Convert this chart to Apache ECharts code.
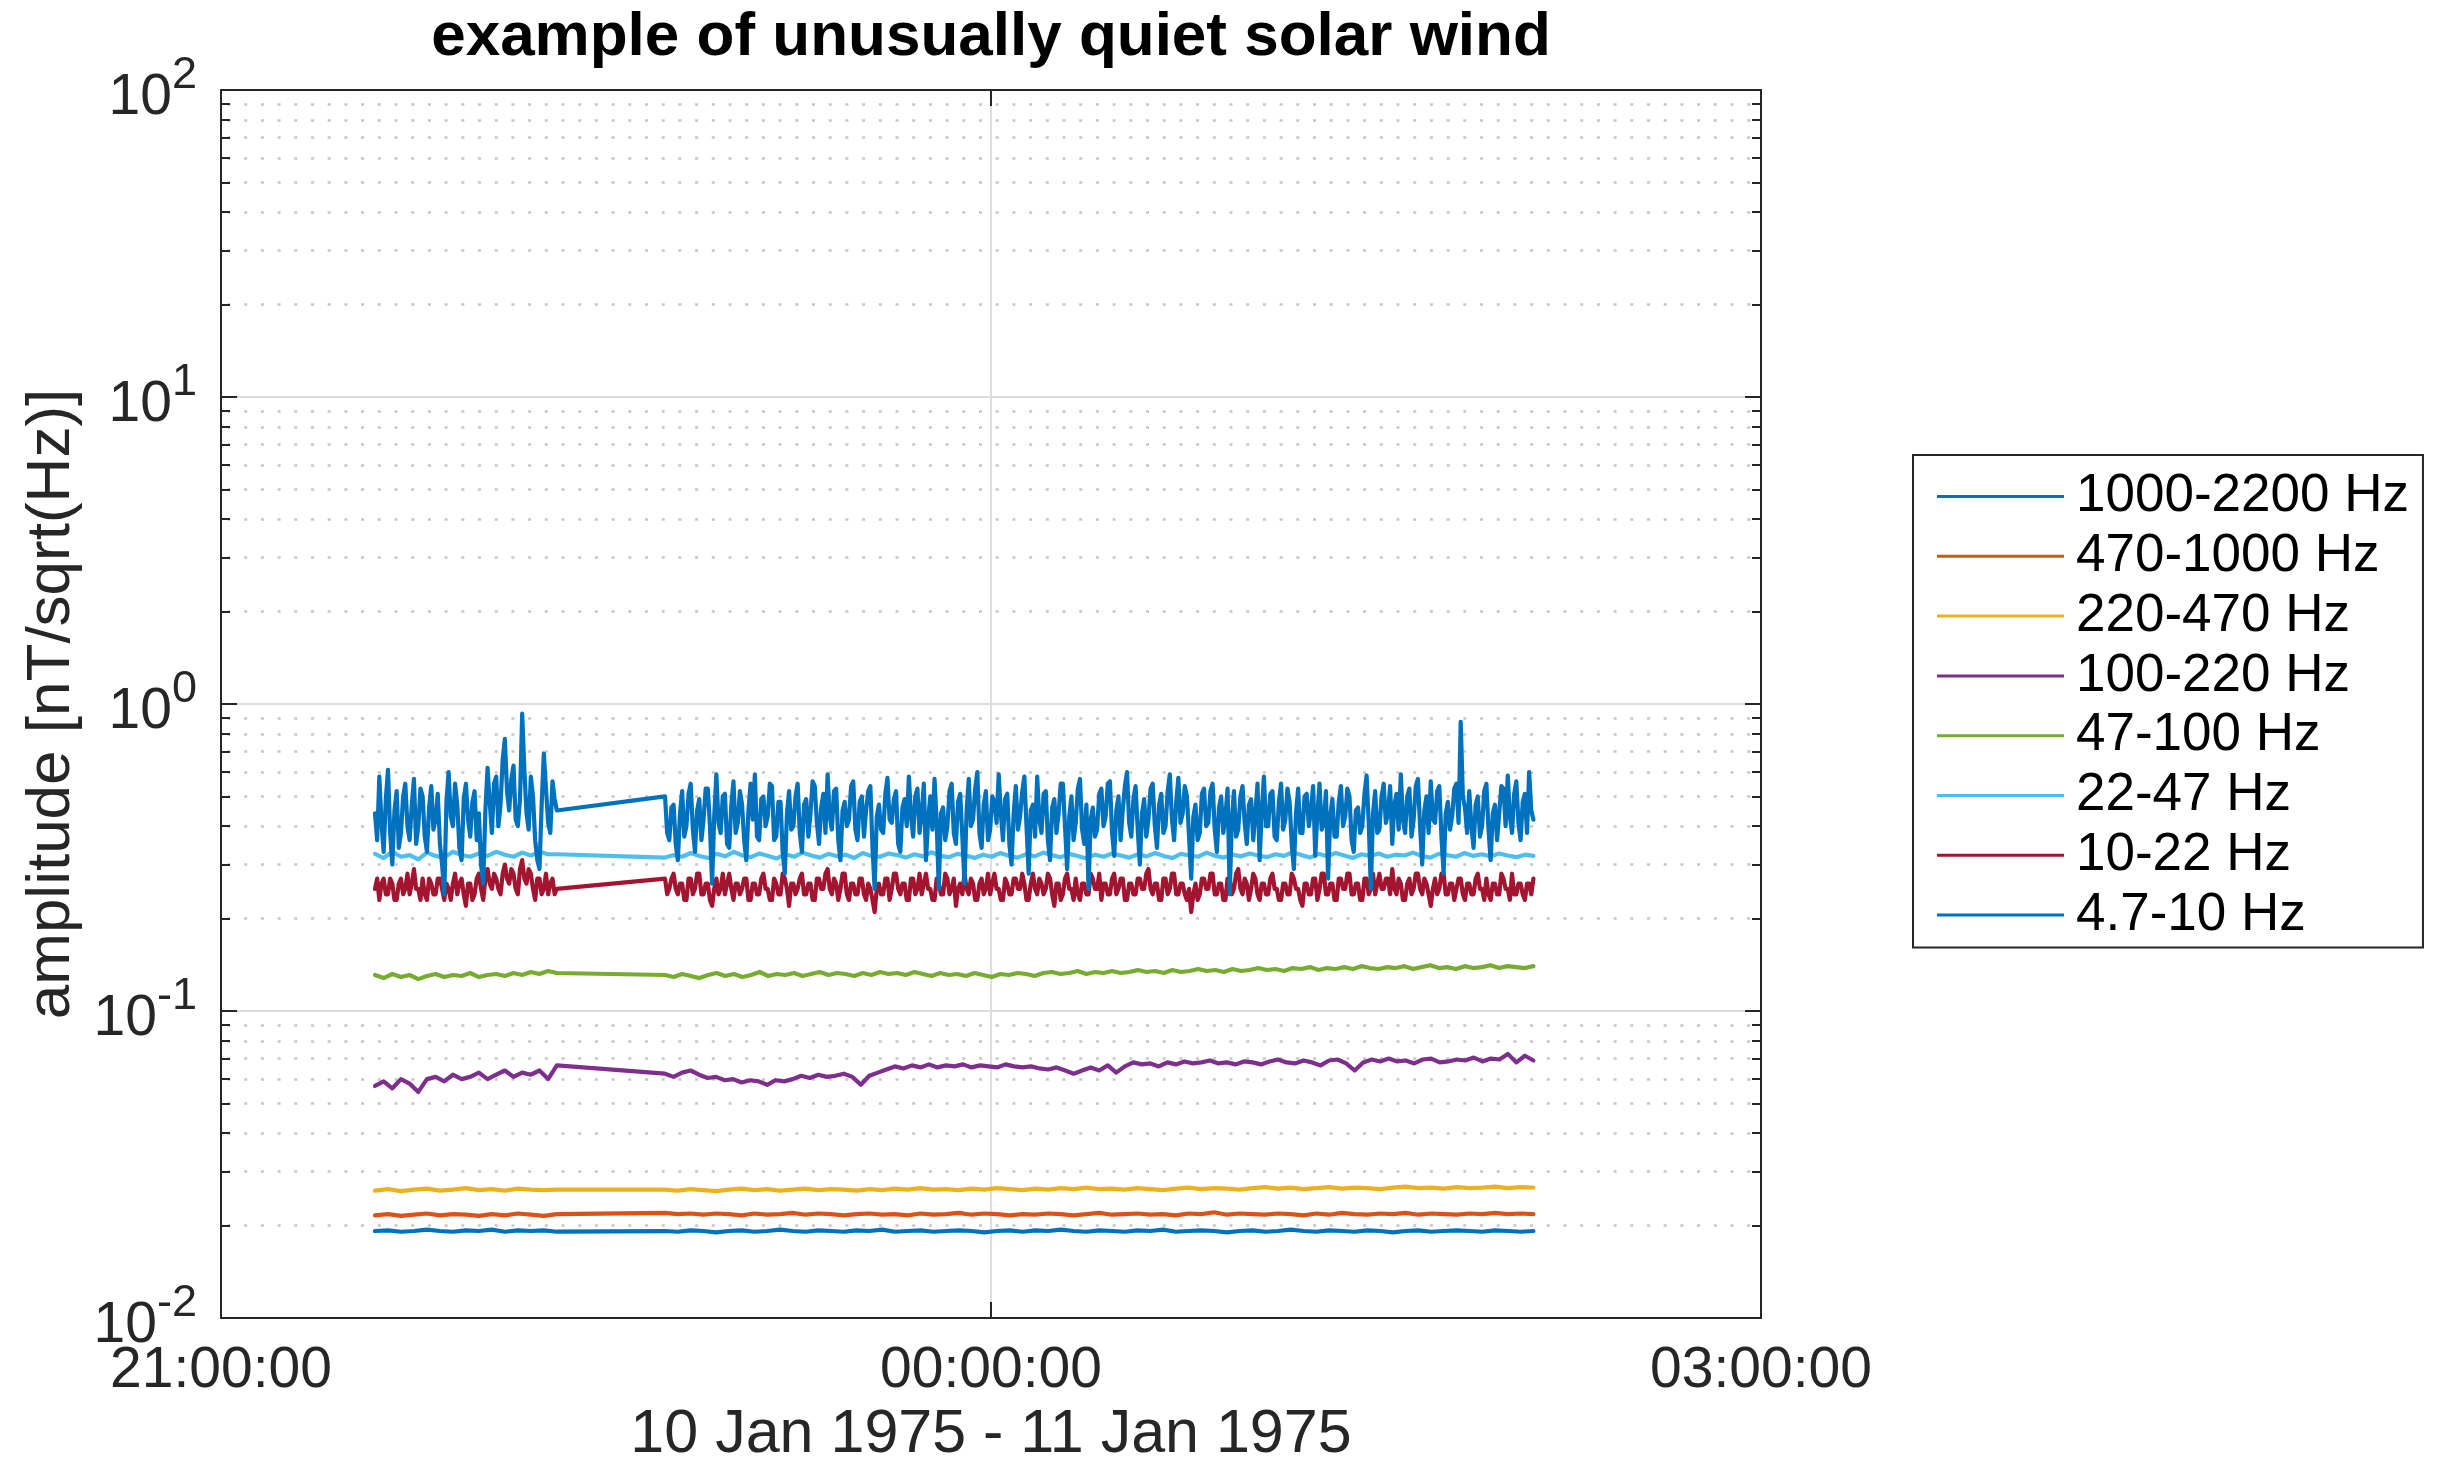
<!DOCTYPE html>
<html>
<head>
<meta charset="utf-8">
<script src="https://cdn.jsdelivr.net/npm/echarts@6/dist/echarts.min.js"></script>
<style>html,body{margin:0;padding:0;background:#fff;}#c{width:2443px;height:1461px;}</style>
</head>
<body>
<div id="c"></div>
<script>
// ---------- DATA ----------
const chartTitle = 'example of unusually quiet solar wind';
const xAxisTitle = '10 Jan 1975 - 11 Jan 1975';
const yAxisTitle = 'amplitude [nT/sqrt(Hz)]';
// x axis in minutes after 21:00:00 on 10 Jan 1975
const xTickLabels = ['21:00:00', '00:00:00', '03:00:00'];
const yTickExponents = ['-2', '-1', '0', '1', '2'];
const seriesNames = ['1000-2200 Hz', '470-1000 Hz', '220-470 Hz', '100-220 Hz', '47-100 Hz', '22-47 Hz', '10-22 Hz', '4.7-10 Hz'];
const seriesColors = ['#0072BD', '#D95319', '#EDB120', '#7E2F8E', '#77AC30', '#4DBEEE', '#A2142F', '#0072BD'];
// two recorded stretches (minutes after 21:00), joined by a straight line across the gap
const segA = [36, 78.5];
const segB = [103.8, 306.8];

const b1000A = [0.0192,0.0193,0.0191,0.0192,0.0194,0.0192,0.0191,0.0193,0.0192,0.0194,0.0191,0.0193,0.0192,0.0193,0.0191];
const b1000B = [0.0192,0.0191,0.0193,0.0192,0.0190,0.0192,0.0193,0.0191,0.0192,0.0194,0.0192,0.0191,0.0193,0.0192,0.0191,0.0193,0.0192,0.0194,0.0191,0.0192,0.0193,0.0191,0.0192,0.0193,0.0192,0.0190,0.0192,0.0193,0.0191,0.0193,0.0192,0.0194,0.0192,0.0191,0.0193,0.0192,0.0191,0.0193,0.0192,0.0194,0.0191,0.0192,0.0193,0.0192,0.0190,0.0192,0.0193,0.0191,0.0192,0.0194,0.0192,0.0191,0.0193,0.0192,0.0191,0.0193,0.0192,0.0190,0.0192,0.0193,0.0191,0.0192,0.0193,0.0192,0.0191,0.0193,0.0192,0.0191,0.0192];

const b470A = [0.0216,0.0218,0.0215,0.0217,0.0219,0.0216,0.0218,0.0217,0.0215,0.0218,0.0216,0.0219,0.0217,0.0215,0.0218];
const b470B = [0.0220,0.0218,0.0219,0.0217,0.0219,0.0218,0.0216,0.0219,0.0217,0.0218,0.0220,0.0217,0.0219,0.0218,0.0216,0.0218,0.0219,0.0217,0.0218,0.0216,0.0219,0.0217,0.0218,0.0220,0.0217,0.0219,0.0218,0.0216,0.0218,0.0217,0.0219,0.0218,0.0216,0.0218,0.0220,0.0217,0.0218,0.0219,0.0217,0.0218,0.0216,0.0219,0.0218,0.0221,0.0217,0.0219,0.0218,0.0217,0.0219,0.0218,0.0216,0.0219,0.0217,0.0220,0.0218,0.0217,0.0219,0.0218,0.0220,0.0217,0.0219,0.0218,0.0217,0.0219,0.0218,0.0220,0.0218,0.0219,0.0218];

const b220A = [0.0260,0.0263,0.0259,0.0262,0.0264,0.0260,0.0262,0.0265,0.0261,0.0263,0.0260,0.0264,0.0262,0.0261,0.0262];
const b220B = [0.0262,0.0260,0.0263,0.0261,0.0259,0.0262,0.0264,0.0261,0.0263,0.0260,0.0262,0.0264,0.0261,0.0263,0.0262,0.0260,0.0263,0.0261,0.0264,0.0262,0.0265,0.0262,0.0263,0.0261,0.0264,0.0262,0.0265,0.0263,0.0261,0.0264,0.0262,0.0265,0.0263,0.0266,0.0263,0.0264,0.0262,0.0265,0.0263,0.0261,0.0264,0.0266,0.0263,0.0265,0.0264,0.0262,0.0265,0.0267,0.0264,0.0266,0.0263,0.0265,0.0267,0.0264,0.0266,0.0265,0.0263,0.0266,0.0268,0.0265,0.0266,0.0264,0.0267,0.0265,0.0266,0.0268,0.0265,0.0267,0.0266];

const b100A = [0.057,0.059,0.056,0.060,0.058,0.0545,0.060,0.061,0.059,0.062,0.060,0.061,0.063,0.060,0.062,0.064,0.061,0.063,0.062,0.064,0.060,0.0665];
const b100B = [0.0625,0.061,0.063,0.064,0.062,0.0605,0.061,0.0595,0.060,0.0585,0.0595,0.059,0.0575,0.0595,0.059,0.060,0.0615,0.0605,0.062,0.061,0.0615,0.0625,0.061,0.0575,0.0615,0.063,0.0645,0.066,0.065,0.0665,0.0655,0.067,0.0655,0.0665,0.066,0.067,0.0655,0.0665,0.066,0.0655,0.067,0.066,0.0655,0.066,0.065,0.0645,0.0655,0.064,0.0625,0.064,0.0655,0.064,0.0665,0.063,0.066,0.068,0.067,0.0675,0.066,0.068,0.067,0.0685,0.0675,0.068,0.069,0.0675,0.068,0.067,0.0685,0.068,0.067,0.0685,0.0695,0.068,0.0675,0.069,0.068,0.0665,0.069,0.0695,0.0675,0.064,0.068,0.0695,0.0685,0.070,0.0685,0.069,0.0675,0.0695,0.070,0.068,0.0685,0.0695,0.069,0.0705,0.0685,0.070,0.0695,0.0725,0.068,0.0715,0.069];

const b47A = [0.131,0.128,0.132,0.129,0.131,0.127,0.130,0.132,0.129,0.131,0.130,0.133,0.129,0.131,0.132,0.130,0.133,0.131,0.134,0.132,0.135,0.133];
const b47B = [0.131,0.129,0.132,0.130,0.128,0.131,0.133,0.130,0.132,0.129,0.131,0.134,0.130,0.132,0.131,0.133,0.130,0.132,0.134,0.131,0.133,0.132,0.130,0.133,0.131,0.134,0.132,0.133,0.131,0.134,0.132,0.130,0.133,0.131,0.132,0.130,0.133,0.131,0.129,0.132,0.131,0.133,0.132,0.130,0.133,0.134,0.132,0.133,0.135,0.132,0.134,0.133,0.135,0.133,0.134,0.136,0.134,0.135,0.133,0.136,0.134,0.135,0.137,0.135,0.136,0.134,0.137,0.135,0.136,0.138,0.136,0.137,0.135,0.138,0.137,0.139,0.136,0.138,0.137,0.139,0.137,0.140,0.138,0.137,0.139,0.138,0.140,0.137,0.139,0.141,0.138,0.139,0.137,0.140,0.138,0.139,0.141,0.138,0.140,0.139,0.138,0.140];

const b22A = [0.325,0.315,0.330,0.318,0.322,0.312,0.328,0.320,0.316,0.330,0.322,0.318,0.326,0.320,0.330,0.323,0.318,0.328,0.321,0.330,0.324,0.324];
const b22B = [0.316,0.322,0.318,0.327,0.320,0.315,0.325,0.319,0.330,0.321,0.317,0.326,0.320,0.314,0.324,0.318,0.328,0.321,0.316,0.325,0.319,0.323,0.315,0.327,0.320,0.318,0.326,0.322,0.316,0.324,0.319,0.329,0.320,0.317,0.325,0.321,0.315,0.323,0.318,0.327,0.320,0.316,0.324,0.319,0.328,0.322,0.317,0.325,0.320,0.314,0.323,0.318,0.326,0.321,0.316,0.324,0.319,0.327,0.320,0.315,0.325,0.321,0.318,0.328,0.320,0.316,0.323,0.319,0.326,0.321,0.317,0.324,0.320,0.329,0.322,0.316,0.325,0.319,0.327,0.321,0.315,0.324,0.320,0.326,0.318,0.323,0.321,0.328,0.320,0.316,0.325,0.322,0.318,0.327,0.320,0.324,0.319,0.326,0.321,0.317,0.323,0.320];

const b10A = [0.25,0.27,0.23,0.26,0.27,0.24,0.24,0.27,0.26,0.23,0.23,0.26,0.27,0.24,0.25,0.28,0.24,0.26,0.29,0.25,0.25,0.23,0.27,0.24,0.23,0.27,0.26,0.24,0.24,0.27,0.27,0.25,0.23,0.26,0.25,0.23,0.26,0.28,0.24,0.26,0.27,0.24,0.22,0.26,0.26,0.23,0.24,0.27,0.28,0.25,0.23,0.27,0.29,0.26,0.25,0.28,0.27,0.25,0.24,0.28,0.30,0.27,0.26,0.29,0.28,0.25,0.24,0.29,0.31,0.27,0.26,0.29,0.28,0.25,0.23,0.27,0.27,0.24,0.25,0.28,0.24,0.26,0.27,0.24,0.25];
const b10B = [0.27,0.24,0.25,0.27,0.28,0.25,0.24,0.26,0.26,0.23,0.23,0.27,0.27,0.24,0.25,0.28,0.28,0.24,0.24,0.26,
0.26,0.23,0.22,0.25,0.27,0.24,0.25,0.28,0.24,0.26,0.28,0.25,0.23,0.26,0.26,0.24,0.25,0.27,0.27,0.23,
0.23,0.26,0.26,0.24,0.24,0.27,0.28,0.25,0.25,0.23,0.23,0.27,0.26,0.24,0.24,0.28,0.27,0.25,0.22,0.26,
0.26,0.24,0.25,0.27,0.28,0.24,0.24,0.26,0.26,0.23,0.23,0.27,0.27,0.25,0.25,0.28,0.29,0.25,0.24,0.27,
0.26,0.23,0.25,0.28,0.28,0.24,0.23,0.26,0.26,0.24,0.24,0.27,0.27,0.24,0.23,0.26,0.25,0.23,0.21,0.25,
0.26,0.24,0.24,0.27,0.27,0.23,0.25,0.28,0.28,0.25,0.24,0.26,0.26,0.23,0.23,0.27,0.27,0.24,0.25,0.28,
0.24,0.26,0.28,0.25,0.25,0.23,0.23,0.27,0.26,0.24,0.24,0.28,0.27,0.24,0.25,0.27,0.22,0.25,0.26,0.24,
0.28,0.25,0.24,0.27,0.26,0.23,0.23,0.26,0.27,0.24,0.25,0.28,0.24,0.26,0.28,0.25,0.25,0.23,0.23,0.27,
0.26,0.24,0.24,0.27,0.27,0.25,0.25,0.28,0.26,0.23,0.23,0.26,0.28,0.25,0.24,0.27,0.26,0.24,0.25,0.28,
0.27,0.24,0.22,0.26,0.26,0.23,0.24,0.27,0.28,0.25,0.25,0.23,0.27,0.24,0.23,0.26,0.26,0.24,0.24,0.28,
0.27,0.25,0.25,0.28,0.23,0.26,0.26,0.24,0.24,0.27,0.28,0.24,0.25,0.27,0.27,0.23,0.23,0.26,0.26,0.24,
0.24,0.27,0.27,0.25,0.25,0.28,0.29,0.25,0.24,0.26,0.26,0.23,0.23,0.27,0.27,0.24,0.25,0.28,0.28,0.24,
0.24,0.26,0.26,0.24,0.23,0.25,0.21,0.24,0.26,0.23,0.24,0.27,0.27,0.25,0.25,0.28,0.28,0.24,0.24,0.26,
0.26,0.23,0.23,0.27,0.27,0.24,0.25,0.28,0.29,0.25,0.24,0.27,0.26,0.23,0.25,0.28,0.27,0.24,0.23,0.26,
0.26,0.24,0.24,0.27,0.28,0.25,0.25,0.23,0.23,0.26,0.26,0.24,0.24,0.28,0.27,0.25,0.25,0.23,0.22,0.26,
0.26,0.24,0.24,0.27,0.27,0.23,0.25,0.28,0.28,0.24,0.24,0.26,0.26,0.23,0.23,0.27,0.27,0.25,0.25,0.28,
0.28,0.24,0.24,0.26,0.26,0.23,0.23,0.27,0.27,0.24,0.25,0.28,0.24,0.26,0.28,0.25,0.25,0.27,0.27,0.24,
0.29,0.25,0.24,0.27,0.26,0.23,0.23,0.26,0.27,0.24,0.25,0.28,0.28,0.25,0.24,0.27,0.26,0.24,0.22,0.25,
0.27,0.24,0.25,0.28,0.28,0.24,0.24,0.26,0.26,0.23,0.25,0.27,0.27,0.24,0.23,0.26,0.26,0.24,0.24,0.27,
0.28,0.25,0.25,0.23,0.27,0.24,0.23,0.26,0.26,0.24,0.24,0.28,0.27,0.25,0.25,0.23,0.28,0.24,0.24,0.26,
0.26,0.24,0.23,0.26,0.26,0.24,0.27];

const b4A = [0.44,0.36,0.58,0.41,0.33,0.49,0.61,0.38,0.30,0.45,0.52,0.34,0.38,0.50,0.55,0.40,0.36,0.47,0.57,0.35,0.40,0.53,0.50,0.37,0.33,0.46,0.54,0.39,0.42,0.51,0.35,0.30,0.24,0.48,0.60,0.43,0.40,0.55,0.47,0.34,0.31,0.49,0.55,0.42,0.37,0.48,0.52,0.36,0.44,0.30,0.26,0.45,0.62,0.48,0.38,0.55,0.58,0.40,0.47,0.66,0.77,0.52,0.45,0.57,0.63,0.42,0.40,0.49,0.93,0.61,0.44,0.39,0.58,0.50,0.36,0.31,0.29,0.47,0.69,0.53,0.41,0.38,0.56,0.49,0.45];
const b4B = [0.50,0.38,0.36,0.46,0.47,0.35,0.31,0.44,0.52,0.37,0.40,0.51,0.55,0.39,0.33,0.45,0.49,0.36,0.42,0.53,
0.53,0.40,0.26,0.43,0.59,0.41,0.38,0.50,0.51,0.35,0.34,0.47,0.56,0.38,0.41,0.52,0.47,0.36,0.31,0.45,
0.55,0.42,0.59,0.37,0.36,0.49,0.50,0.40,0.43,0.55,0.54,0.36,0.37,0.48,0.48,0.33,0.28,0.44,0.52,0.39,
0.40,0.50,0.55,0.38,0.33,0.47,0.49,0.37,0.44,0.56,0.54,0.41,0.35,0.46,0.51,0.38,0.59,0.43,0.39,0.52,
0.53,0.36,0.31,0.45,0.48,0.40,0.42,0.54,0.56,0.39,0.36,0.48,0.50,0.37,0.45,0.52,0.54,0.34,0.25,0.43,
0.47,0.39,0.38,0.51,0.575,0.42,0.41,0.49,0.52,0.35,0.33,0.46,0.49,0.40,0.58,0.43,0.37,0.50,0.53,0.38,
0.44,0.55,0.31,0.42,0.50,0.39,0.57,0.41,0.25,0.44,0.46,0.36,0.40,0.52,0.55,0.38,0.35,0.48,0.51,0.37,
0.26,0.45,0.57,0.40,0.42,0.53,0.60,0.38,0.34,0.47,0.52,0.36,0.39,0.50,0.48,0.41,0.59,0.44,0.36,0.49,
0.51,0.35,0.30,0.44,0.54,0.39,0.43,0.52,0.58,0.40,0.28,0.45,0.47,0.37,0.58,0.42,0.38,0.51,0.52,0.36,
0.31,0.46,0.49,0.38,0.44,0.55,0.55,0.40,0.29,0.43,0.50,0.36,0.41,0.53,0.57,0.39,0.35,0.47,0.25,0.42,
0.46,0.37,0.39,0.51,0.53,0.40,0.43,0.55,0.56,0.38,0.32,0.45,0.50,0.36,0.45,0.54,0.60,0.41,0.37,0.49,
0.54,0.39,0.30,0.44,0.49,0.37,0.42,0.53,0.55,0.40,0.34,0.47,0.51,0.38,0.40,0.52,0.59,0.42,0.36,0.48,
0.575,0.41,0.44,0.54,0.50,0.37,0.27,0.43,0.47,0.36,0.38,0.51,0.53,0.40,0.41,0.52,0.55,0.39,0.33,0.46,
0.50,0.38,0.43,0.53,0.24,0.42,0.52,0.37,0.39,0.50,0.54,0.41,0.35,0.47,0.49,0.36,0.44,0.55,0.31,0.45,
0.58,0.40,0.40,0.51,0.52,0.37,0.36,0.48,0.55,0.39,0.42,0.53,0.48,0.35,0.29,0.44,0.53,0.38,0.38,0.50,
0.51,0.40,0.45,0.54,0.32,0.44,0.55,0.39,0.41,0.52,0.27,0.43,0.49,0.37,0.37,0.48,0.54,0.40,0.43,0.53,
0.50,0.36,0.33,0.45,0.46,0.38,0.40,0.51,0.585,0.41,0.25,0.44,0.52,0.38,0.39,0.50,0.55,0.41,0.44,0.54,
0.35,0.47,0.51,0.39,0.59,0.42,0.38,0.50,0.53,0.37,0.42,0.54,0.57,0.40,0.30,0.45,0.50,0.38,0.56,0.42,
0.41,0.52,0.54,0.37,0.28,0.44,0.48,0.39,0.43,0.53,0.55,0.41,0.875,0.50,0.46,0.38,0.52,0.40,0.34,0.47,
0.50,0.37,0.40,0.52,0.55,0.39,0.31,0.44,0.47,0.36,0.44,0.54,0.53,0.40,0.585,0.43,0.38,0.51,0.56,0.41,
0.36,0.48,0.51,0.38,0.60,0.45,0.42];

const bandValues = [[b1000A, b1000B], [b470A, b470B], [b220A, b220B], [b100A, b100B], [b47A, b47B], [b22A, b22B], [b10A, b10B], [b4A, b4B]];

// ---------- build points: samples spread evenly over each recorded stretch ----------
function buildPoints(valsA, valsB) {
  const pts = [];
  [[segA, valsA], [segB, valsB]].forEach(function (pair) {
    const seg = pair[0], vals = pair[1], n = vals.length;
    for (let i = 0; i < n; i++) {
      pts.push([seg[0] + (seg[1] - seg[0]) * i / (n - 1), vals[i]]);
    }
  });
  return pts;
}

const FONT = 'Liberation Sans';
const AX = '#262626';

const series = seriesNames.map(function (name, i) {
  return {
    name: name,
    type: 'line',
    xAxisIndex: 0,
    yAxisIndex: 0,
    data: buildPoints(bandValues[i][0], bandValues[i][1]),
    symbol: 'none',
    showSymbol: false,
    sampling: null,
    lineStyle: { color: seriesColors[i], width: 4.2, join: 'round', cap: 'round' },
    itemStyle: { color: seriesColors[i] },
    emphasis: { disabled: true },
    z: 3 + i
  };
});

const yAxisCommon = {
  type: 'log',
  logBase: 10,
  min: 0.01,
  max: 100,
  axisLine: { show: true, onZero: false, lineStyle: { color: AX, width: 2 } },
  axisTick: { show: true, inside: true, length: 16, lineStyle: { color: AX, width: 2 } },
  minorTick: { show: true, splitNumber: 9, length: 9, lineStyle: { color: AX, width: 2 } }
};

const option = {
  animation: false,
  backgroundColor: '#ffffff',
  title: {
    text: chartTitle,
    left: 991,
    top: 7,
    padding: 0,
    textAlign: 'center',
    textStyle: { fontFamily: FONT, fontSize: 62, fontWeight: 'bold', color: '#000000' }
  },
  legend: {
    orient: 'vertical',
    left: 1913,
    top: 455,
    padding: [15, 14, 6, 24],
    itemGap: 6.8,
    itemWidth: 127,
    itemHeight: 3,
    icon: 'rect',
    borderColor: AX,
    borderWidth: 2,
    backgroundColor: '#ffffff',
    selectedMode: false,
    textStyle: { fontFamily: FONT, fontSize: 53, lineHeight: 52, color: '#000000', padding: [0, 0, 0, 7] },
    data: seriesNames
  },
  grid: { left: 221, top: 90, width: 1540, height: 1228, show: false, outerBoundsMode: 'none', containLabel: false },
  xAxis: [
    {
      type: 'value',
      position: 'bottom',
      min: 0,
      max: 360,
      interval: 180,
      axisLine: { show: true, onZero: false, lineStyle: { color: AX, width: 2 } },
      axisTick: { show: true, inside: true, length: 16, lineStyle: { color: AX, width: 2 } },
      axisLabel: {
        margin: 25,
        fontFamily: FONT,
        fontSize: 57,
        color: AX,
        formatter: function (v) { return xTickLabels[Math.round(v / 180)]; }
      },
      splitLine: { show: true, lineStyle: { color: '#dedede', width: 2 } },
      name: xAxisTitle,
      nameLocation: 'middle',
      nameGap: 86,
      nameTextStyle: { fontFamily: FONT, fontSize: 61, color: AX }
    },
    {
      type: 'value',
      position: 'top',
      min: 0,
      max: 360,
      interval: 180,
      axisLine: { show: true, onZero: false, lineStyle: { color: AX, width: 2 } },
      axisTick: { show: true, inside: true, length: 16, lineStyle: { color: AX, width: 2 } },
      axisLabel: { show: false },
      splitLine: { show: false }
    }
  ],
  yAxis: [
    Object.assign({}, yAxisCommon, {
      position: 'left',
      axisLabel: {
        margin: 24,
        color: AX,
        formatter: function (v) {
          const e = Math.round(Math.log10(v));
          return '{b|10}{s|' + yTickExponents[e + 2] + '}';
        },
        rich: {
          b: { fontFamily: FONT, fontSize: 57, color: AX, verticalAlign: 'bottom' },
          s: { fontFamily: FONT, fontSize: 45, color: AX, verticalAlign: 'bottom', padding: [0, 0, 29, 0] }
        }
      },
      splitLine: { show: true, lineStyle: { color: '#dedede', width: 2 } },
      minorSplitLine: { show: true, lineStyle: { color: '#c6c6c6', width: 2.6, type: [3, 13.7], dashOffset: 10.2 } },
      name: yAxisTitle,
      nameLocation: 'middle',
      nameGap: 138,
      nameTextStyle: { fontFamily: FONT, fontSize: 62, color: AX }
    }),
    Object.assign({}, yAxisCommon, {
      position: 'right',
      axisLabel: { show: false },
      splitLine: { show: false },
      minorSplitLine: { show: false }
    })
  ],
  series: series
};

const chart = echarts.init(document.getElementById('c'), null, { renderer: 'canvas', width: 2443, height: 1461 });
chart.setOption(option);
</script>
</body>
</html>
